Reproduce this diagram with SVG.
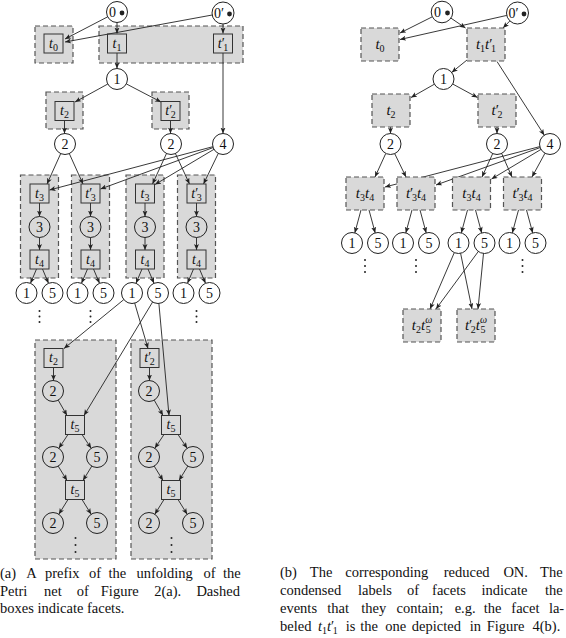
<svg xmlns="http://www.w3.org/2000/svg" width="566" height="638" viewBox="0 0 566 638">
<style>
.fac{fill:#d9d9d9;stroke:#555;stroke-width:1.2;stroke-dasharray:5 3}
.tr{fill:none;stroke:#333;stroke-width:1}
.pl{fill:none;stroke:#222;stroke-width:1}
.lab{font-family:"Liberation Serif","DejaVu Serif","Times New Roman",serif;font-size:14px;text-anchor:middle;fill:#111}
.big{font-size:15px}
.it{font-style:italic}
.sb{font-size:10px}
.ar{stroke:#222;stroke-width:0.9;fill:none;marker-end:url(#ah)}
.dot{fill:#222}
.cap{font-family:"Liberation Serif","DejaVu Serif","Times New Roman",serif;font-size:14.5px;fill:#111}
</style>
<defs>
<marker id="ah" markerUnits="userSpaceOnUse" markerWidth="7" markerHeight="6" refX="6" refY="2.5" orient="auto">
<path d="M0,0 L6,2.5 L0,5 L1.5,2.5 z" fill="#222"/>
</marker>
</defs>
<rect width="566" height="638" fill="#fff"/>

<!-- LEFT: facets -->
<g id="left-facets">
<rect class="fac" x="35" y="26" width="38" height="37"/>
<rect class="fac" x="99" y="26" width="144" height="37"/>
<rect class="fac" x="46" y="92" width="37" height="37"/>
<rect class="fac" x="152" y="92" width="37" height="37"/>
<rect class="fac" x="20.5" y="175" width="38" height="103"/>
<rect class="fac" x="71.5" y="175" width="38" height="103"/>
<rect class="fac" x="126" y="175" width="38" height="103"/>
<rect class="fac" x="177.5" y="175" width="38" height="103"/>
<rect class="fac" x="35" y="340" width="81" height="219"/>
<rect class="fac" x="131" y="340" width="81" height="219"/>
</g>

<!-- LEFT: connectors -->
<g id="left-connectors">
<line class="ar" x1="107.7" y1="16.8" x2="65" y2="39"/>
<line class="ar" x1="212.2" y1="15" x2="65" y2="42"/>
<line class="ar" x1="117" y1="22.5" x2="117" y2="33.5"/>
<line class="ar" x1="223" y1="24" x2="223" y2="33.5"/>
<line class="ar" x1="117" y1="53" x2="117" y2="68.5"/>
<line class="ar" x1="223" y1="53" x2="223" y2="133.5"/>
<line class="ar" x1="107.8" y1="84" x2="75" y2="102"/>
<line class="ar" x1="126.3" y1="83.9" x2="161" y2="102"/>
<line class="ar" x1="64.5" y1="120.5" x2="64.5" y2="133.5"/>
<line class="ar" x1="170.5" y1="120.5" x2="170.5" y2="133.5"/>
<line class="ar" x1="60.7" y1="153.6" x2="47" y2="184"/>
<line class="ar" x1="69.3" y1="153.6" x2="83" y2="184"/>
<line class="ar" x1="166.5" y1="153.5" x2="152.5" y2="184"/>
<line class="ar" x1="175.4" y1="153.5" x2="189.5" y2="184"/>
<line class="ar" x1="212.8" y1="146.7" x2="49.5" y2="190"/>
<line class="ar" x1="213.1" y1="147.6" x2="100.5" y2="189"/>
<line class="ar" x1="214" y1="149.3" x2="155" y2="184.5"/>
<line class="ar" x1="218.3" y1="153.4" x2="203.5" y2="184"/>
<line class="ar" x1="39.5" y1="203" x2="39.5" y2="216.5"/>
<line class="ar" x1="39.5" y1="237.5" x2="39.5" y2="250"/>
<line class="ar" x1="36.5" y1="269" x2="30.5" y2="283.3"/>
<line class="ar" x1="42.5" y1="269" x2="48.5" y2="283.3"/>
<line class="ar" x1="90.5" y1="203" x2="90.5" y2="216.5"/>
<line class="ar" x1="90.5" y1="237.5" x2="90.5" y2="250"/>
<line class="ar" x1="87.5" y1="269" x2="81.5" y2="283.3"/>
<line class="ar" x1="93.5" y1="269" x2="99.5" y2="283.3"/>
<line class="ar" x1="145" y1="203" x2="145" y2="216.5"/>
<line class="ar" x1="145" y1="237.5" x2="145" y2="250"/>
<line class="ar" x1="142" y1="269" x2="136" y2="283.3"/>
<line class="ar" x1="148" y1="269" x2="154" y2="283.3"/>
<line class="ar" x1="196.5" y1="203" x2="196.5" y2="216.5"/>
<line class="ar" x1="196.5" y1="237.5" x2="196.5" y2="250"/>
<line class="ar" x1="193.5" y1="269" x2="187.5" y2="283.3"/>
<line class="ar" x1="199.5" y1="269" x2="205.5" y2="283.3"/>
<line class="ar" x1="123.8" y1="299.6" x2="64" y2="348.5"/>
<line class="ar" x1="134.7" y1="303.1" x2="148" y2="348.5"/>
<line class="ar" x1="152.6" y1="302" x2="84" y2="415.5"/>
<line class="ar" x1="158.9" y1="303.5" x2="169" y2="415.5"/>
<line class="ar" x1="53.5" y1="367.5" x2="53.5" y2="380.5"/>
<line class="ar" x1="58.2" y1="400.1" x2="67" y2="415.5"/>
<line class="ar" x1="68" y1="434.5" x2="58.8" y2="448.3"/>
<line class="ar" x1="82" y1="434.5" x2="91.2" y2="448.3"/>
<line class="ar" x1="58.2" y1="466.1" x2="67" y2="480.5"/>
<line class="ar" x1="91.8" y1="466.1" x2="83" y2="480.5"/>
<line class="ar" x1="68" y1="499.5" x2="58.8" y2="514.3"/>
<line class="ar" x1="82" y1="499.5" x2="91.2" y2="514.3"/>
<line class="ar" x1="149.5" y1="367.5" x2="149.5" y2="380.5"/>
<line class="ar" x1="154.2" y1="400.1" x2="163" y2="415.5"/>
<line class="ar" x1="164" y1="434.5" x2="154.8" y2="448.3"/>
<line class="ar" x1="178" y1="434.5" x2="187.2" y2="448.3"/>
<line class="ar" x1="154.2" y1="466.1" x2="163" y2="480.5"/>
<line class="ar" x1="187.8" y1="466.1" x2="179" y2="480.5"/>
<line class="ar" x1="164" y1="499.5" x2="154.8" y2="514.3"/>
<line class="ar" x1="178" y1="499.5" x2="187.2" y2="514.3"/>
</g>

<!-- LEFT: nodes -->
<g id="L-p0"><circle class="pl" cx="117" cy="12" r="10.5"/><text class="lab" x="112.5" y="17">0</text><circle class="dot" cx="122" cy="13" r="2.4"/></g>
<g id="L-p0p"><circle class="pl" cx="223" cy="13" r="11"/><text class="lab" x="219" y="18">0′</text><circle class="dot" cx="229.5" cy="14" r="2.4"/></g>
<g id="L-t0"><rect class="tr" x="44" y="34" width="19" height="19"/><text class="lab" x="53.5" y="47.5"><tspan class="it">t</tspan><tspan class="sb" dy="3">0</tspan></text></g>
<g id="L-t1"><rect class="tr" x="107.5" y="34" width="19" height="19"/><text class="lab" x="117" y="47.5"><tspan class="it">t</tspan><tspan class="sb" dy="3">1</tspan></text></g>
<g id="L-t1p"><rect class="tr" x="213.5" y="34" width="19" height="19"/><text class="lab" x="223" y="47.5"><tspan class="it">t</tspan><tspan>′</tspan><tspan class="sb" dx="-1.5" dy="3">1</tspan></text></g>
<g id="L-p1"><circle class="pl" cx="117" cy="79" r="10.5"/><text class="lab" x="117" y="84">1</text></g>
<g id="L-t2"><rect class="tr" x="55" y="101.5" width="19" height="19"/><text class="lab" x="64.5" y="115"><tspan class="it">t</tspan><tspan class="sb" dy="3">2</tspan></text></g>
<g id="L-t2p"><rect class="tr" x="161" y="101.5" width="19" height="19"/><text class="lab" x="170.5" y="115"><tspan class="it">t</tspan><tspan>′</tspan><tspan class="sb" dx="-1.5" dy="3">2</tspan></text></g>
<g id="L-p2a"><circle class="pl" cx="65" cy="144" r="10.5"/><text class="lab" x="65" y="149">2</text></g>
<g id="L-p2b"><circle class="pl" cx="171" cy="144" r="10.5"/><text class="lab" x="171" y="149">2</text></g>
<g id="L-p4"><circle class="pl" cx="223" cy="144" r="10.5"/><text class="lab" x="223" y="149">4</text></g>

<g id="L-col1">
<rect class="tr" x="30" y="184" width="19" height="19"/><text class="lab" x="39.5" y="197.5"><tspan class="it">t</tspan><tspan class="sb" dy="3">3</tspan></text>
<circle class="pl" cx="39.5" cy="227" r="10.5"/><text class="lab" x="39.5" y="232">3</text>
<rect class="tr" x="30" y="250" width="19" height="19"/><text class="lab" x="39.5" y="263.5"><tspan class="it">t</tspan><tspan class="sb" dy="3">4</tspan></text>
<circle class="pl" cx="26.5" cy="293" r="10.5"/><text class="lab" x="26.5" y="298">1</text>
<circle class="pl" cx="52.5" cy="293" r="10.5"/><text class="lab" x="52.5" y="298">5</text>
<circle class="dot" cx="39.5" cy="311" r="1"/><circle class="dot" cx="39.5" cy="316.5" r="1"/><circle class="dot" cx="39.5" cy="322" r="1"/>
</g>
<g id="L-col2">
<rect class="tr" x="81" y="184" width="19" height="19"/><text class="lab" x="90.5" y="197.5"><tspan class="it">t</tspan><tspan>′</tspan><tspan class="sb" dx="-1.5" dy="3">3</tspan></text>
<circle class="pl" cx="90.5" cy="227" r="10.5"/><text class="lab" x="90.5" y="232">3</text>
<rect class="tr" x="81" y="250" width="19" height="19"/><text class="lab" x="90.5" y="263.5"><tspan class="it">t</tspan><tspan class="sb" dy="3">4</tspan></text>
<circle class="pl" cx="77.5" cy="293" r="10.5"/><text class="lab" x="77.5" y="298">1</text>
<circle class="pl" cx="103.5" cy="293" r="10.5"/><text class="lab" x="103.5" y="298">5</text>
<circle class="dot" cx="90.5" cy="311" r="1"/><circle class="dot" cx="90.5" cy="316.5" r="1"/><circle class="dot" cx="90.5" cy="322" r="1"/>
</g>
<g id="L-col3">
<rect class="tr" x="135.5" y="184" width="19" height="19"/><text class="lab" x="145" y="197.5"><tspan class="it">t</tspan><tspan class="sb" dy="3">3</tspan></text>
<circle class="pl" cx="145" cy="227" r="10.5"/><text class="lab" x="145" y="232">3</text>
<rect class="tr" x="135.5" y="250" width="19" height="19"/><text class="lab" x="145" y="263.5"><tspan class="it">t</tspan><tspan class="sb" dy="3">4</tspan></text>
<circle class="pl" cx="132" cy="293" r="10.5"/><text class="lab" x="132" y="298">1</text>
<circle class="pl" cx="158" cy="293" r="10.5"/><text class="lab" x="158" y="298">5</text>
</g>
<g id="L-col4">
<rect class="tr" x="187" y="184" width="19" height="19"/><text class="lab" x="196.5" y="197.5"><tspan class="it">t</tspan><tspan>′</tspan><tspan class="sb" dx="-1.5" dy="3">3</tspan></text>
<circle class="pl" cx="196.5" cy="227" r="10.5"/><text class="lab" x="196.5" y="232">3</text>
<rect class="tr" x="187" y="250" width="19" height="19"/><text class="lab" x="196.5" y="263.5"><tspan class="it">t</tspan><tspan class="sb" dy="3">4</tspan></text>
<circle class="pl" cx="183.5" cy="293" r="10.5"/><text class="lab" x="183.5" y="298">1</text>
<circle class="pl" cx="209.5" cy="293" r="10.5"/><text class="lab" x="209.5" y="298">5</text>
<circle class="dot" cx="196.5" cy="311" r="1"/><circle class="dot" cx="196.5" cy="316.5" r="1"/><circle class="dot" cx="196.5" cy="322" r="1"/>
</g>

<g id="L-low1">
<rect class="tr" x="44" y="348.5" width="19" height="19"/><text class="lab" x="53.5" y="362"><tspan class="it">t</tspan><tspan class="sb" dy="3">2</tspan></text>
<circle class="pl" cx="53" cy="391" r="10.5"/><text class="lab" x="53" y="396">2</text>
<rect class="tr" x="65.5" y="415.5" width="19" height="19"/><text class="lab" x="75" y="429"><tspan class="it">t</tspan><tspan class="sb" dy="3">5</tspan></text>
<circle class="pl" cx="53" cy="457" r="10.5"/><text class="lab" x="53" y="462">2</text>
<circle class="pl" cx="97" cy="457" r="10.5"/><text class="lab" x="97" y="462">5</text>
<rect class="tr" x="65.5" y="480.5" width="19" height="19"/><text class="lab" x="75" y="494"><tspan class="it">t</tspan><tspan class="sb" dy="3">5</tspan></text>
<circle class="pl" cx="53" cy="523" r="10.5"/><text class="lab" x="53" y="528">2</text>
<circle class="pl" cx="97" cy="523" r="10.5"/><text class="lab" x="97" y="528">5</text>
<circle class="dot" cx="75.5" cy="538" r="1"/><circle class="dot" cx="75.5" cy="545" r="1"/><circle class="dot" cx="75.5" cy="552" r="1"/>
</g>
<g id="L-low2">
<rect class="tr" x="140" y="348.5" width="19" height="19"/><text class="lab" x="149.5" y="362"><tspan class="it">t</tspan><tspan>′</tspan><tspan class="sb" dx="-1.5" dy="3">2</tspan></text>
<circle class="pl" cx="149" cy="391" r="10.5"/><text class="lab" x="149" y="396">2</text>
<rect class="tr" x="161.5" y="415.5" width="19" height="19"/><text class="lab" x="171" y="429"><tspan class="it">t</tspan><tspan class="sb" dy="3">5</tspan></text>
<circle class="pl" cx="149" cy="457" r="10.5"/><text class="lab" x="149" y="462">2</text>
<circle class="pl" cx="193" cy="457" r="10.5"/><text class="lab" x="193" y="462">5</text>
<rect class="tr" x="161.5" y="480.5" width="19" height="19"/><text class="lab" x="171" y="494"><tspan class="it">t</tspan><tspan class="sb" dy="3">5</tspan></text>
<circle class="pl" cx="149" cy="523" r="10.5"/><text class="lab" x="149" y="528">2</text>
<circle class="pl" cx="193" cy="523" r="10.5"/><text class="lab" x="193" y="528">5</text>
<circle class="dot" cx="171.5" cy="538" r="1"/><circle class="dot" cx="171.5" cy="545" r="1"/><circle class="dot" cx="171.5" cy="552" r="1"/>
</g>

<!-- RIGHT: connectors -->
<g id="right-connectors">
<line class="ar" x1="432.3" y1="16.8" x2="400" y2="33"/>
<line class="ar" x1="506.8" y1="15.4" x2="400" y2="39.5"/>
<line class="ar" x1="450.9" y1="18.1" x2="465.5" y2="28"/>
<line class="ar" x1="509.9" y1="20.9" x2="503" y2="28"/>
<line class="ar" x1="467" y1="60" x2="451.7" y2="72.4"/>
<line class="ar" x1="497" y1="61.5" x2="544.3" y2="135.2"/>
<line class="ar" x1="434.4" y1="84.2" x2="411" y2="97.5"/>
<line class="ar" x1="452.7" y1="84" x2="477.5" y2="97.5"/>
<line class="ar" x1="390.5" y1="127" x2="390.5" y2="133.5"/>
<line class="ar" x1="497" y1="127" x2="497" y2="133.5"/>
<line class="ar" x1="385.7" y1="153.6" x2="375" y2="177"/>
<line class="ar" x1="394.6" y1="153.4" x2="406" y2="177"/>
<line class="ar" x1="492.7" y1="153.6" x2="482" y2="177"/>
<line class="ar" x1="501.6" y1="153.4" x2="512" y2="177"/>
<line class="ar" x1="539.8" y1="146.6" x2="385" y2="187"/>
<line class="ar" x1="540.1" y1="147.6" x2="436" y2="185"/>
<line class="ar" x1="541" y1="149.4" x2="491.5" y2="179"/>
<line class="ar" x1="545" y1="153.2" x2="532" y2="177"/>
<line class="ar" x1="361" y1="210" x2="354.8" y2="232.9"/>
<line class="ar" x1="369" y1="210" x2="375.2" y2="232.9"/>
<line class="ar" x1="412" y1="210" x2="405.8" y2="232.9"/>
<line class="ar" x1="420" y1="210" x2="426.2" y2="232.9"/>
<line class="ar" x1="467.5" y1="210" x2="461.3" y2="232.9"/>
<line class="ar" x1="475.5" y1="210" x2="481.7" y2="232.9"/>
<line class="ar" x1="518.5" y1="210" x2="512.3" y2="232.9"/>
<line class="ar" x1="526.5" y1="210" x2="532.7" y2="232.9"/>
<line class="ar" x1="454.3" y1="252.6" x2="430" y2="309"/>
<line class="ar" x1="460.6" y1="253.3" x2="472" y2="309"/>
<line class="ar" x1="478.3" y1="251.5" x2="436" y2="309"/>
<line class="ar" x1="483.5" y1="253.4" x2="478" y2="309"/>
</g>

<!-- RIGHT: nodes -->
<g id="R-p0"><circle class="pl" cx="442" cy="12" r="10.8"/><text class="lab" x="437.5" y="17">0</text><circle class="dot" cx="447.5" cy="13" r="2.4"/></g>
<g id="R-p0p"><circle class="pl" cx="517.5" cy="13" r="11"/><text class="lab" x="513.5" y="18">0′</text><circle class="dot" cx="524" cy="14" r="2.4"/></g>
<g id="R-t0"><rect class="fac" x="361" y="28" width="38" height="33"/><text class="lab big" x="380" y="49"><tspan class="it">t</tspan><tspan class="sb" dy="3">0</tspan></text></g>
<g id="R-t1t1p"><rect class="fac" x="467" y="28" width="38" height="33"/><text class="lab big" x="486" y="49"><tspan class="it">t</tspan><tspan class="sb" dy="3">1</tspan><tspan class="it" dy="-3">t</tspan><tspan>′</tspan><tspan class="sb" dx="-1.5" dy="3">1</tspan></text></g>
<g id="R-p1"><circle class="pl" cx="443.5" cy="79" r="10.5"/><text class="lab" x="443.5" y="84">1</text></g>
<g id="R-t2"><rect class="fac" x="372" y="94" width="38" height="33"/><text class="lab big" x="391" y="115"><tspan class="it">t</tspan><tspan class="sb" dy="3">2</tspan></text></g>
<g id="R-t2p"><rect class="fac" x="478" y="94" width="38" height="33"/><text class="lab big" x="497" y="115"><tspan class="it">t</tspan><tspan>′</tspan><tspan class="sb" dx="-1.5" dy="3">2</tspan></text></g>
<g id="R-p2a"><circle class="pl" cx="390.5" cy="144" r="10.5"/><text class="lab" x="390.5" y="149">2</text></g>
<g id="R-p2b"><circle class="pl" cx="497" cy="144" r="10.5"/><text class="lab" x="497" y="149">2</text></g>
<g id="R-p4"><circle class="pl" cx="550" cy="144" r="10.5"/><text class="lab" x="550" y="149">4</text></g>

<g id="R-c1"><rect class="fac" x="346" y="177" width="38" height="33"/><text class="lab big" x="365" y="198"><tspan class="it">t</tspan><tspan class="sb" dy="3">3</tspan><tspan class="it" dy="-3">t</tspan><tspan class="sb" dy="3">4</tspan></text>
<circle class="pl" cx="352" cy="243" r="10.5"/><text class="lab" x="352" y="248">1</text>
<circle class="pl" cx="378" cy="243" r="10.5"/><text class="lab" x="378" y="248">5</text>
<circle class="dot" cx="365" cy="260" r="1"/><circle class="dot" cx="365" cy="266" r="1"/><circle class="dot" cx="365" cy="272" r="1"/></g>
<g id="R-c2"><rect class="fac" x="397" y="177" width="38" height="33"/><text class="lab big" x="416" y="198"><tspan class="it">t</tspan><tspan>′</tspan><tspan class="sb" dx="-1.5" dy="3">3</tspan><tspan class="it" dy="-3">t</tspan><tspan class="sb" dy="3">4</tspan></text>
<circle class="pl" cx="403" cy="243" r="10.5"/><text class="lab" x="403" y="248">1</text>
<circle class="pl" cx="429" cy="243" r="10.5"/><text class="lab" x="429" y="248">5</text>
<circle class="dot" cx="416" cy="260" r="1"/><circle class="dot" cx="416" cy="266" r="1"/><circle class="dot" cx="416" cy="272" r="1"/></g>
<g id="R-c3"><rect class="fac" x="452.5" y="177" width="38" height="33"/><text class="lab big" x="471.5" y="198"><tspan class="it">t</tspan><tspan class="sb" dy="3">3</tspan><tspan class="it" dy="-3">t</tspan><tspan class="sb" dy="3">4</tspan></text>
<circle class="pl" cx="458.5" cy="243" r="10.5"/><text class="lab" x="458.5" y="248">1</text>
<circle class="pl" cx="484.5" cy="243" r="10.5"/><text class="lab" x="484.5" y="248">5</text></g>
<g id="R-c4"><rect class="fac" x="503.5" y="177" width="38" height="33"/><text class="lab big" x="522.5" y="198"><tspan class="it">t</tspan><tspan>′</tspan><tspan class="sb" dx="-1.5" dy="3">3</tspan><tspan class="it" dy="-3">t</tspan><tspan class="sb" dy="3">4</tspan></text>
<circle class="pl" cx="509.5" cy="243" r="10.5"/><text class="lab" x="509.5" y="248">1</text>
<circle class="pl" cx="535.5" cy="243" r="10.5"/><text class="lab" x="535.5" y="248">5</text>
<circle class="dot" cx="522.5" cy="260" r="1"/><circle class="dot" cx="522.5" cy="266" r="1"/><circle class="dot" cx="522.5" cy="272" r="1"/></g>
<g id="R-t2t5"><rect class="fac" x="403" y="309" width="38" height="33"/><text class="lab big" x="422" y="330"><tspan class="it">t</tspan><tspan class="sb" dy="3">2</tspan><tspan class="it" dy="-3">t</tspan><tspan class="sb it" dy="-7">ω</tspan><tspan class="sb" dx="-6.5" dy="10">5</tspan></text></g>
<g id="R-t2pt5"><rect class="fac" x="457" y="309" width="38" height="33"/><text class="lab big" x="476" y="330"><tspan class="it">t</tspan><tspan>′</tspan><tspan class="sb" dx="-1.5" dy="3">2</tspan><tspan class="it" dy="-3">t</tspan><tspan class="sb it" dy="-7">ω</tspan><tspan class="sb" dx="-6.5" dy="10">5</tspan></text></g>

<!-- captions -->
<g id="caption-a" class="cap">
<text y="578"><tspan x="0">(a)</tspan><tspan x="26.3">A</tspan><tspan x="45">prefix</tspan><tspan x="89">of</tspan><tspan x="108.5">the</tspan><tspan x="136.4">unfolding</tspan><tspan x="203.4">of</tspan><tspan x="222.9">the</tspan></text>
<text y="596"><tspan x="0">Petri</tspan><tspan x="44.1">net</tspan><tspan x="76.7">of</tspan><tspan x="100.8">Figure</tspan><tspan x="154.2">2(a).</tspan><tspan x="196.4">Dashed</tspan></text>
<text y="613" x="0">boxes indicate facets.</text>
</g>
<g id="caption-b" class="cap">
<text y="577"><tspan x="280">(b)</tspan><tspan x="309.8">The</tspan><tspan x="345.3">corresponding</tspan><tspan x="443.7">reduced</tspan><tspan x="503.4">ON.</tspan><tspan x="540.1">The</tspan></text>
<text y="595"><tspan x="280">condensed</tspan><tspan x="358">labels</tspan><tspan x="407">of</tspan><tspan x="432.1">facets</tspan><tspan x="481.5">indicate</tspan><tspan x="544.9">the</tspan></text>
<text y="613"><tspan x="280">events</tspan><tspan x="327.3">that</tspan><tspan x="361.3">they</tspan><tspan x="396.5">contain;</tspan><tspan x="454.7">e.g.</tspan><tspan x="483.8">the</tspan><tspan x="511.3">facet</tspan><tspan x="548.9">la-</tspan></text>
<text y="631"><tspan x="280">beled</tspan><tspan x="318" class="it">t</tspan><tspan font-size="10" dy="3">1</tspan><tspan class="it" dy="-3">t</tspan><tspan>′</tspan><tspan font-size="10" dx="-1.5" dy="3">1</tspan><tspan x="345.7" dy="-3">is</tspan><tspan x="360.3">the</tspan><tspan x="385.2">one</tspan><tspan x="411.8">depicted</tspan><tspan x="469.8">in</tspan><tspan x="486.7">Figure</tspan><tspan x="532.5">4(b).</tspan></text>
</g>
</svg>
